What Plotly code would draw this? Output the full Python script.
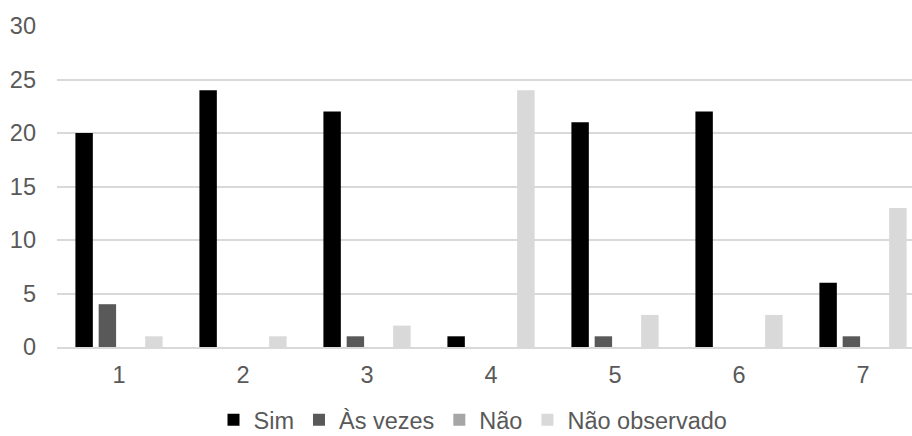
import plotly.graph_objects as go

# Question numbers and answer counts per response option
categories = ["1", "2", "3", "4", "5", "6", "7"]
sim = [20, 24, 22, 1, 21, 22, 6]
as_vezes = [4, 0, 1, 0, 1, 0, 1]
nao = [0, 0, 0, 0, 0, 0, 0]
nao_observado = [1, 1, 2, 24, 3, 3, 13]

series_names = ["Sim", "Às vezes", "Não", "Não observado"]
series_values = [sim, as_vezes, nao, nao_observado]
series_colors = ["#000000", "#595959", "#a6a6a6", "#d9d9d9"]

y_ticks = [0, 5, 10, 15, 20, 25, 30]

W, H = 912, 436
left, top, bottom = 57, 26, 89
cat_px = 124  # pixel width of one category band

fig = go.Figure()
for name, vals, color in zip(series_names, series_values, series_colors):
    fig.add_trace(go.Bar(
        x=categories, y=vals, name=name,
        marker=dict(color=color, line=dict(width=0)),
    ))

font_family = "Liberation Sans, Arial, sans-serif"
text_color = "#595959"
fsize = 23.5

x_end = -0.5 + (W - left) / cat_px
plot_h = H - top - bottom

fig.update_layout(
    width=W, height=H,
    margin=dict(l=left, r=0, t=top, b=bottom, autoexpand=False),
    paper_bgcolor="white", plot_bgcolor="white",
    barmode="group", bargap=0.25, bargroupgap=0.25,
    font=dict(family=font_family, size=fsize, color=text_color),
    showlegend=True,
    legend=dict(
        orientation="h", x=(473 - left) / (W - left), xanchor="center",
        y=-(420 - (H - bottom)) / plot_h, yanchor="middle",
        font=dict(family=font_family, size=fsize, color=text_color),
        itemwidth=30, traceorder="normal", tracegroupgap=0,
        borderwidth=0,
    ),
    xaxis=dict(
        type="category", range=[-0.5, x_end],
        showgrid=False, showline=True, linecolor="#d9d9d9", linewidth=1.5,
        ticks="", ticklabelstandoff=6,
        tickfont=dict(size=fsize, color=text_color),
    ),
    yaxis=dict(
        range=[0, 30], tickvals=y_ticks,
        showgrid=True, gridcolor="#d9d9d9", gridwidth=1.5,
        zeroline=False, showline=False, ticks="",
        ticklabelstandoff=20,
        tickfont=dict(size=fsize, color=text_color),
    ),
)

fig.write_html("out.html")
